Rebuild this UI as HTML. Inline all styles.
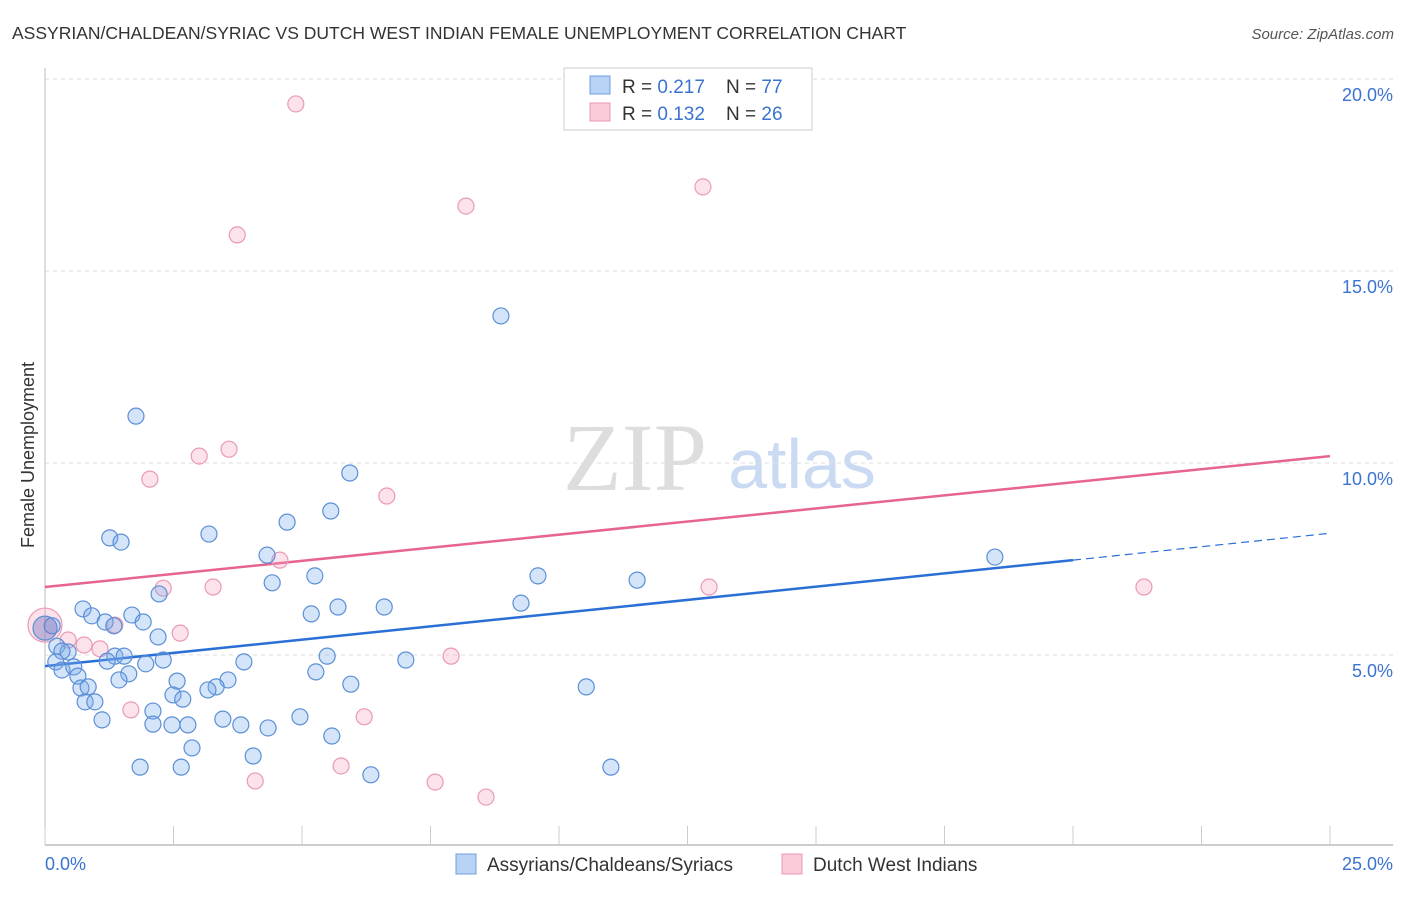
<!DOCTYPE html>
<html><head><meta charset="utf-8"><style>
body{margin:0;background:#fff;font-family:"Liberation Sans",sans-serif;}
svg text{font-family:"Liberation Sans",sans-serif;}
</style></head><body>
<svg id="chart" width="1406" height="892" xmlns="http://www.w3.org/2000/svg">
<text x="12" y="39" font-size="17.5" fill="#333">ASSYRIAN/CHALDEAN/SYRIAC VS DUTCH WEST INDIAN FEMALE UNEMPLOYMENT CORRELATION CHART</text>
<text x="1394" y="39" font-size="15" fill="#555" font-style="italic" text-anchor="end">Source: ZipAtlas.com</text>
<g>
<text x="635" y="490" font-size="96" fill="#ddd" text-anchor="middle" font-family="Liberation Serif" style="font-family:'Liberation Serif',serif">ZIP</text>
<text x="802" y="488" font-size="70" fill="#c9daf2" text-anchor="middle">atlas</text>
</g>
<g id="grid"></g>
<g id="axes"></g>
<g id="trends"></g>
<g id="pts"></g>
<text transform="translate(34,455) rotate(-90)" font-size="18" fill="#333" text-anchor="middle">Female Unemployment</text>
<g>
<rect x="564" y="68" width="248" height="62" fill="#fff" stroke="#ccc"/>
<rect x="590" y="76" width="20" height="18" fill="#b8d3f5" stroke="#6e9ee0"/>
<rect x="590" y="103" width="20" height="18" fill="#fbcbd9" stroke="#eb9ab4"/>
<text x="622" y="93" font-size="19" fill="#333">R = <tspan fill="#3a73d0">0.217</tspan></text>
<text x="726" y="93" font-size="19" fill="#333">N = <tspan fill="#3a73d0">77</tspan></text>
<text x="622" y="120" font-size="19" fill="#333">R = <tspan fill="#3a73d0">0.132</tspan></text>
<text x="726" y="120" font-size="19" fill="#333">N = <tspan fill="#3a73d0">26</tspan></text>
</g>
<g>
<rect x="456" y="854" width="20" height="20" fill="#b8d3f5" stroke="#6e9ee0"/>
<text x="487" y="871" font-size="19" fill="#333">Assyrians/Chaldeans/Syriacs</text>
<rect x="782" y="854" width="20" height="20" fill="#fbcbd9" stroke="#eb9ab4"/>
<text x="813" y="871" font-size="19" fill="#333">Dutch West Indians</text>
</g>
</svg>
<script>
const blueX=[1.77,8.87,5.93,3.19,1.26,1.48,4.71,5.56,4.32,18.48,5.25,4.42,9.59,11.52,2.22,0.74,0.91,1.69,1.17,1.34,1.91,5.18,5.70,6.60,9.26,2.20,0.14,0.23,0.45,0.33,0.21,0.33,0.56,0.64,1.36,1.54,1.21,2.30,1.96,3.87,5.49,7.02,5.27,0.70,0.84,1.63,1.44,2.57,3.56,3.33,5.95,10.53,0.78,0.97,2.49,2.68,2.10,3.17,1.11,3.46,4.96,2.10,2.47,2.78,3.81,4.34,5.58,2.86,4.05,1.85,2.65,6.34,11.01,0.00];
const blueY=[11.22,13.83,9.74,8.15,8.05,7.94,8.46,8.75,7.60,7.55,7.06,6.88,7.06,6.95,6.59,6.20,6.02,6.04,5.86,5.76,5.86,6.07,6.25,6.25,6.35,5.47,5.76,5.23,5.08,5.10,4.82,4.61,4.69,4.45,4.97,4.97,4.84,4.87,4.77,4.82,4.97,4.87,4.56,4.14,4.17,4.51,4.35,4.32,4.35,4.17,4.24,4.17,3.78,3.78,3.96,3.85,3.54,4.09,3.31,3.33,3.39,3.20,3.18,3.18,3.18,3.10,2.89,2.58,2.37,2.08,2.08,1.88,2.08,5.70];
const pinkX=[4.88,12.80,8.19,3.74,3.58,3.00,2.04,6.65,4.57,2.30,3.27,12.92,21.38,1.36,2.63,0.45,0.76,1.07,7.90,1.67,6.21,5.76,4.09,7.59,8.58,0.00];
const pinkY=[19.35,17.19,16.69,15.94,10.36,10.18,9.58,9.14,7.47,6.74,6.77,6.77,6.77,5.78,5.57,5.39,5.26,5.16,4.97,3.57,3.39,2.11,1.72,1.69,1.30,5.78];
const blueTrendX=[0,20,25];
const blueTrendY=[4.71,7.47,8.17];
const pinkTrendX=[0,25];
const pinkTrendY=[6.77,10.18];
const yTicks=[5,10,15,20];
const yTickLabels=["5.0%","10.0%","15.0%","20.0%"];
const xTicks=[0,2.5,5,7.5,10,12.5,15,17.5,20,22.5,25];
const xEndLabels=["0.0%","25.0%"];

const NS="http://www.w3.org/2000/svg";
const sx=v=>45+v*51.4;
const sy=v=>847-v*38.4;
function mk(tag,attrs,parent){const e=document.createElementNS(NS,tag);for(const k in attrs)e.setAttribute(k,attrs[k]);parent.appendChild(e);return e;}
const grid=document.getElementById('grid'),axes=document.getElementById('axes'),trends=document.getElementById('trends'),pts=document.getElementById('pts');
yTicks.forEach((t,i)=>{
 const l=mk('line',{x1:45,x2:1393,y1:sy(t),y2:sy(t),stroke:'#ddd','stroke-dasharray':'4,4'},grid);
 
 
 const tx=mk('text',{x:1393,y:sy(t)+22,'font-size':18,fill:'#3a73d0','text-anchor':'end'},axes);
 tx.textContent=yTickLabels[i];
 
 
});
const ax=mk('line',{x1:45,x2:1393,y1:845,y2:845,stroke:'#bbb','stroke-width':1.5},axes);


const ay=mk('line',{x1:45,x2:45,y1:68,y2:845,stroke:'#bbb','stroke-width':1},axes);


xTicks.forEach(t=>{
 const l=mk('line',{x1:sx(t),x2:sx(t),y1:826,y2:845,stroke:'#ccc'},axes);
 
 
});
const xl0=mk('text',{x:45,y:870,'font-size':18,fill:'#3a73d0'},axes);
xl0.textContent=xEndLabels[0];


const xl1=mk('text',{x:1393,y:870,'font-size':18,fill:'#3a73d0','text-anchor':'end'},axes);
xl1.textContent=xEndLabels[1];



pinkX.forEach((x,i)=>{
 const big=i===pinkX.length-1;
 const c=mk('circle',{cx:sx(x),cy:sy(pinkY[i]),r:big?17:8,fill:'rgba(244,160,188,0.3)',stroke:'#e99ab5','stroke-width':1.2},pts);
 
 
});
blueX.forEach((x,i)=>{
 const big=i===blueX.length-1;
 const c=mk('circle',{cx:sx(x),cy:sy(blueY[i]),r:big?12:8,fill:big?'rgba(110,110,190,0.4)':'rgba(120,170,235,0.32)',stroke:'#5b8fd6','stroke-width':1.2},pts);
 
 
});
const bt=mk('line',{x1:sx(blueTrendX[0]),y1:sy(blueTrendY[0]),x2:sx(blueTrendX[1]),y2:sy(blueTrendY[1]),stroke:'#2a6fd6','stroke-width':2.5},trends);


const bd=mk('line',{x1:sx(blueTrendX[1]),y1:sy(blueTrendY[1]),x2:sx(blueTrendX[2]),y2:sy(blueTrendY[2]),stroke:'#2a6fd6','stroke-width':1.2,'stroke-dasharray':'8,5'},trends);


const pt=mk('line',{x1:sx(pinkTrendX[0]),y1:sy(pinkTrendY[0]),x2:sx(pinkTrendX[1]),y2:sy(pinkTrendY[1]),stroke:'#e6648e','stroke-width':2.5},trends);


</script>
</body></html>
